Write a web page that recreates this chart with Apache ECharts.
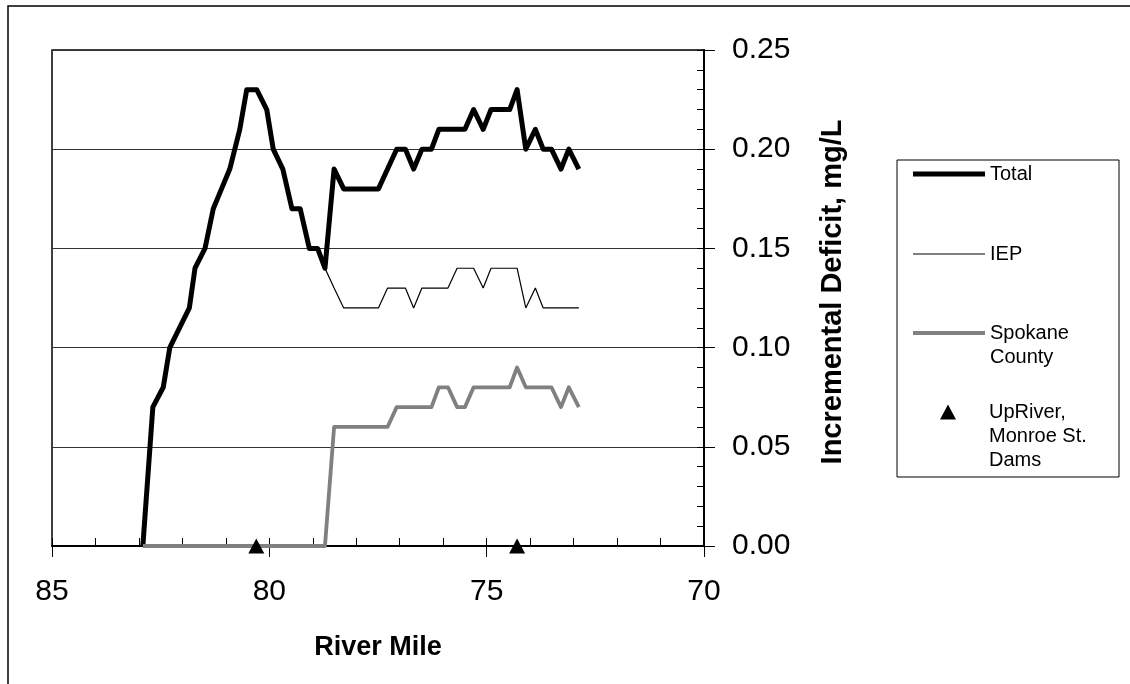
<!DOCTYPE html>
<html lang="en">
<head>
<meta charset="UTF-8">
<title>Incremental Deficit by River Mile</title>
<script src="https://cdn.jsdelivr.net/npm/echarts@6/dist/echarts.min.js"></script>
<style>
  html, body { margin: 0; padding: 0; background: #fff; }
</style>
</head>
<body>
<div id="main" style="width: 1130px;height: 684px"></div>
<script type="text/javascript">
  // river mile of each model point
  var miles = [82.91, 82.68, 82.44, 82.29, 81.84, 81.71, 81.48, 81.29, 81.10, 80.91,
               80.68, 80.52, 80.29, 80.06, 79.91, 79.69, 79.48, 79.29, 79.08, 78.89,
               78.72, 78.51, 78.29, 78.09, 77.89, 77.69, 77.49, 77.28, 77.07, 76.87,
               76.68, 76.49, 76.27, 76.10, 75.89, 75.68, 75.50, 75.30, 75.08, 74.90,
               74.70, 74.47, 74.30, 74.10, 73.88, 73.70, 73.51, 73.29, 73.11, 72.88];
  var total = [0, 0.07, 0.08, 0.10, 0.12, 0.14, 0.15, 0.17, 0.18, 0.19,
               0.21, 0.23, 0.23, 0.22, 0.20, 0.19, 0.17, 0.17, 0.15, 0.15,
               0.14, 0.19, 0.18, 0.18, 0.18, 0.18, 0.18, 0.19, 0.20, 0.20,
               0.19, 0.20, 0.20, 0.21, 0.21, 0.21, 0.21, 0.22, 0.21, 0.22,
               0.22, 0.22, 0.23, 0.20, 0.21, 0.20, 0.20, 0.19, 0.20, 0.19];
  var iep = [0, 0.07, 0.08, 0.10, 0.12, 0.14, 0.15, 0.17, 0.18, 0.19,
             0.21, 0.23, 0.23, 0.22, 0.20, 0.19, 0.17, 0.17, 0.15, 0.15,
             0.14, 0.13, 0.12, 0.12, 0.12, 0.12, 0.12, 0.13, 0.13, 0.13,
             0.12, 0.13, 0.13, 0.13, 0.13, 0.14, 0.14, 0.14, 0.13, 0.14,
             0.14, 0.14, 0.14, 0.12, 0.13, 0.12, 0.12, 0.12, 0.12, 0.12];
  var spokane = [0, 0, 0, 0, 0, 0, 0, 0, 0, 0,
                 0, 0, 0, 0, 0, 0, 0, 0, 0, 0,
                 0, 0.06, 0.06, 0.06, 0.06, 0.06, 0.06, 0.06, 0.07, 0.07,
                 0.07, 0.07, 0.07, 0.08, 0.08, 0.07, 0.07, 0.08, 0.08, 0.08,
                 0.08, 0.08, 0.09, 0.08, 0.08, 0.08, 0.08, 0.07, 0.08, 0.07];
  // UpRiver and Monroe St. dams
  var damMiles = [80.3, 74.3];
  var damValues = [0, 0];
  var xTicks = [85, 80, 75, 70];

  function pairs(xs, ys) {
    return xs.map(function (x, i) { return [x, ys[i]]; });
  }

  var font = "'Liberation Sans', Arial, sans-serif";
  var myChart = echarts.init(document.getElementById('main'));

  // one legend per entry so each can sit where the original puts it
  function legendBox(name, top, left, extra) {
    var l = {
      data: [name],
      orient: 'vertical',
      left: left,
      top: top,
      padding: 0,
      icon: 'rect',
      itemWidth: 72,
      itemHeight: 4,
      selectedMode: false,
      textStyle: {fontFamily: font, fontSize: 20, lineHeight: 24, color: '#000'}
    };
    return Object.assign(l, extra || {});
  }

  var option = {
    animation: false,
    backgroundColor: '#fff',
    grid: {
      left: 52, right: 426, top: 50, bottom: 138,
      show: true, borderColor: '#000', borderWidth: 1.5
    },
    legend: [
      legendBox('Total', 162, 913, {itemHeight: 5}),
      legendBox('IEP', 242, 913, {itemHeight: 1}),
      legendBox('Spokane County', 297, 913, {
        itemHeight: 4,
        formatter: function () { return '\nSpokane\nCounty'; }
      }),
      legendBox('UpRiver, Monroe St. Dams', 352, 940, {
        icon: 'triangle', itemWidth: 16, itemHeight: 15,
        formatter: function () { return '\n\nUpRiver,\nMonroe St.\nDams'; },
        textStyle: {fontFamily: font, fontSize: 20, lineHeight: 24, color: '#000', padding: [0, 0, 0, 28]}
      })
    ],
    xAxis: [
      {
        type: 'value', min: 70, max: 85, interval: 5, inverse: true, position: 'bottom',
        name: 'River Mile', nameLocation: 'middle', nameGap: 88,
        nameTextStyle: {fontFamily: font, fontSize: 27, fontWeight: 'bold', color: '#000'},
        axisLine: {lineStyle: {color: '#000', width: 2}},
        axisTick: {length: 11, lineStyle: {color: '#000', width: 1}},
        axisLabel: {
          fontFamily: font, fontSize: 30, color: '#000', margin: 31,
          customValues: xTicks
        },
        splitLine: {show: false}
      },
      {
        type: 'value', min: 70, max: 85, interval: 1, inverse: true, position: 'bottom',
        axisLine: {show: false},
        axisTick: {inside: true, length: 8, lineStyle: {color: '#000', width: 1}},
        axisLabel: {show: false},
        splitLine: {show: false}
      }
    ],
    yAxis: [
      {
        type: 'value', min: 0, max: 0.25, interval: 0.05, position: 'right',
        name: 'Incremental Deficit, mg/L', nameLocation: 'middle', nameGap: 114,
        nameTextStyle: {fontFamily: font, fontSize: 29, fontWeight: 'bold', color: '#000', padding: [0, 0, 0, 12]},
        axisLine: {show: true, lineStyle: {color: '#000', width: 2}},
        axisTick: {show: true, length: 11, lineStyle: {color: '#000', width: 1}},
        axisLabel: {
          fontFamily: font, fontSize: 30, color: '#000', margin: 28,
          formatter: function (v) { return v.toFixed(2); }
        },
        splitLine: {show: true, lineStyle: {color: '#333', width: 1}}
      },
      {
        type: 'value', min: 0, max: 0.25, interval: 0.01, position: 'right',
        axisLine: {show: false},
        axisTick: {show: true, inside: true, length: 7, lineStyle: {color: '#000', width: 1}},
        axisLabel: {show: false},
        splitLine: {show: false}
      }
    ],
    series: [
      {
        name: 'Total', type: 'line', symbol: 'none', clip: false,
        data: pairs(miles, total),
        lineStyle: {color: '#000', width: 5, join: 'round'},
        itemStyle: {color: '#000'}
      },
      {
        name: 'IEP', type: 'line', symbol: 'none', clip: false,
        data: pairs(miles, iep),
        lineStyle: {color: '#000', width: 1.2},
        itemStyle: {color: '#000'}
      },
      {
        name: 'Spokane County', type: 'line', symbol: 'none', clip: false,
        data: pairs(miles, spokane),
        lineStyle: {color: '#808080', width: 3.8, join: 'round'},
        itemStyle: {color: '#808080'}
      },
      {
        name: 'UpRiver, Monroe St. Dams', type: 'scatter', symbol: 'triangle',
        symbolSize: [16, 15], clip: false, z: 5,
        data: pairs(damMiles, damValues),
        itemStyle: {color: '#000', opacity: 1}
      }
    ],
    graphic: [
      {
        type: 'rect', silent: true,
        shape: {x: 8, y: 6, width: 1200, height: 800},
        style: {fill: 'none', stroke: '#000', lineWidth: 1.5}
      },
      {
        type: 'rect', silent: true,
        shape: {x: 897, y: 160, width: 222, height: 317},
        style: {fill: 'none', stroke: '#000', lineWidth: 1}
      }
    ]
  };
  myChart.setOption(option);
</script>
</body>
</html>
